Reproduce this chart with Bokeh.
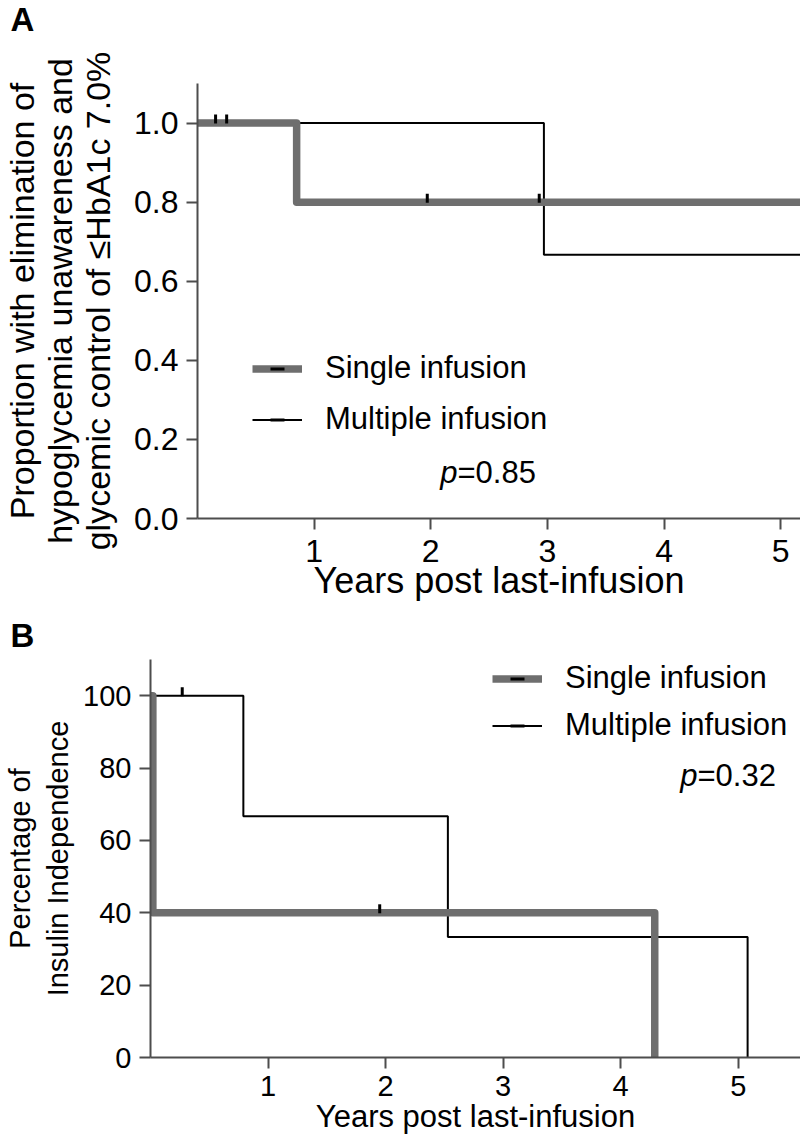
import numpy as np
from bokeh.plotting import figure
from bokeh.models import Legend, LegendItem, FixedTicker, Range1d, PrintfTickFormatter, Label
from bokeh.layouts import column
from bokeh.embed import file_html
from bokeh.resources import INLINE

# ---------------- data ----------------
x_ticks = [1, 2, 3, 4, 5]

# Panel A: proportion with elimination of hypoglycemia unawareness and HbA1c <= 7.0%
a_single_t = [0.0, 0.85, 5.2]
a_single_s = [1.0, 0.8, 0.8]
a_multi_t = [0.0, 2.97, 5.2]
a_multi_s = [1.0, 0.667, 0.667]
a_single_cens_t = [0.155, 1.97, 2.93]
a_single_cens_s = [1.0, 0.8, 0.8]
a_multi_cens_t = [0.25]
a_multi_cens_s = [1.0]
a_y_ticks = [0.0, 0.2, 0.4, 0.6, 0.8, 1.0]
a_pvalue = "0.85"

# Panel B: percentage of insulin independence
b_single_t = [0.0, 0.02, 4.29]
b_single_s = [100, 40, 0]
b_multi_t = [0.0, 0.79, 2.53, 5.08]
b_multi_s = [100, 66.7, 33.3, 0]
b_single_cens_t = [1.95]
b_single_cens_s = [40]
b_multi_cens_t = [0.27]
b_multi_cens_s = [100]
b_y_ticks = [0, 20, 40, 60, 80, 100]
b_pvalue = "0.32"

series_labels = ["Single infusion", "Multiple infusion"]
x_title = "Years post last-infusion"
a_y_title = ["Proportion with elimination of",
             "hypoglycemia unawareness and",
             "glycemic control of \u2264HbA1c 7.0%"]
b_y_title = ["Percentage of", "Insulin Independence"]

# ---------------- style ----------------
FONT = "Liberation Sans"
GRAY = "#6e6e6e"
AX = "#4d4d4d"
W = 800


def make_fig(height, left, top, bottom, xr, yr, tick_size):
    p = figure(width=W, height=height, x_range=Range1d(*xr), y_range=Range1d(*yr),
               output_backend="svg", toolbar_location=None,
               min_border_left=left, min_border_right=0,
               min_border_top=top, min_border_bottom=bottom)
    p.outline_line_color = None
    p.grid.visible = False
    for ax in (p.xaxis[0], p.yaxis[0]):
        ax.axis_line_color = AX
        ax.axis_line_width = 2
        ax.major_tick_line_color = AX
        ax.major_tick_line_width = 2
        ax.major_tick_in = 0
        ax.major_tick_out = 11
        ax.minor_tick_line_color = None
        ax.major_label_text_font = FONT
        ax.major_label_text_font_size = f"{tick_size}px"
        ax.major_label_text_color = "black"
        ax.axis_label_text_font = FONT
        ax.axis_label_text_font_style = "normal"
        ax.axis_label_text_color = "black"
    p.xaxis.ticker = FixedTicker(ticks=x_ticks)
    p.yaxis.major_label_standoff = 8
    return p


def add_text(p, x, y, text, size, align="center", style="normal"):
    p.add_layout(Label(x=x, y=y, x_units="screen", y_units="screen", text=text,
                       text_font=FONT, text_font_size=f"{size}px",
                       text_align=align, text_baseline="middle", text_font_style=style,
                       text_color="black"))


def draw_km(p, s_t, s_s, m_t, m_s, sc_t, sc_s, mc_t, mc_s, px_to_data):
    off = 4 * px_to_data
    r_m = p.step(m_t, m_s, mode="after", line_color="black", line_width=2)
    r_s = p.step(s_t, s_s, mode="after", line_color=GRAY, line_width=7.5, line_join="round")
    c_s = p.scatter(sc_t, [v + off for v in sc_s], marker="dash", angle=np.pi / 2, size=9,
                    line_color="black", line_width=3)
    c_m = p.scatter(mc_t, [v + off for v in mc_s], marker="dash", angle=np.pi / 2, size=9,
                    line_color="black", line_width=3)
    return r_s, r_m, c_s, c_m


def add_legend(p, r_s, r_m, c_s, c_m, loc, spacing):
    leg = Legend(items=[LegendItem(label=series_labels[0], renderers=[r_s, c_s]),
                        LegendItem(label=series_labels[1], renderers=[r_m, c_m])],
                 location=loc, orientation="vertical",
                 label_text_font=FONT, label_text_font_size="31px",
                 label_text_color="black",
                 glyph_width=50, glyph_height=35, label_height=35,
                 label_standoff=23, spacing=spacing, padding=0, margin=0,
                 border_line_color=None, background_fill_alpha=0)
    p.add_layout(leg)


def panel_letter(p, letter, offset, standoff):
    p.title.text = letter
    p.title.align = "left"
    p.title.vertical_align = "top"
    p.title.offset = offset
    p.title.standoff = standoff
    p.title.text_font = FONT
    p.title.text_font_size = "33px"
    p.title.text_font_style = "bold"
    p.title.text_color = "black"


# ---------------- panel A ----------------
A_H, A_L, A_T, A_B = 612, 195, 83, 94
pA = make_fig(A_H, A_L, A_T, A_B, (0, 5.17), (0, 1.1), 32)
pA.yaxis.ticker = FixedTicker(ticks=a_y_ticks)
pA.yaxis.formatter = PrintfTickFormatter(format="%.1f")
pA.xaxis.major_label_standoff = 10
pA.yaxis.axis_label = "\n".join(a_y_title)
pA.yaxis.axis_label_text_font_size = "34px"
pA.yaxis.axis_label_text_line_height = 1.0
pA.yaxis.axis_label_standoff = 14
pA.xaxis.axis_label = x_title
pA.xaxis.axis_label_text_font_size = "36px"
pA.xaxis.axis_label_standoff = -5
rs, rm, cs, cm = draw_km(pA, a_single_t, a_single_s, a_multi_t, a_multi_s,
                         a_single_cens_t, a_single_cens_s, a_multi_cens_t, a_multi_cens_s,
                         1.1 / (A_H - A_T - A_B))
add_legend(pA, rs, rm, cs, cm, (55, 81), 15)
add_text(pA, 260, 46, "p", 31, align="right", style="italic")
add_text(pA, 260, 46, "=" + a_pvalue, 31, align="left")
# a blank second line lifts the letter towards the top of the page
panel_letter(pA, "A\n ", -187, 0)
pA.title.text_line_height = 1.2

# ---------------- panel B ----------------
B_H, B_L, B_T, B_B = 535, 148, 45, 90
pB = make_fig(B_H, B_L, B_T, B_B, (0, 5.53), (0, 110), 29)
pB.yaxis.ticker = FixedTicker(ticks=b_y_ticks)
pB.xaxis.major_label_standoff = 7
pB.yaxis.axis_label = "\n".join(b_y_title)
pB.yaxis.axis_label_text_font_size = "29px"
pB.yaxis.axis_label_text_line_height = 1.2
pB.yaxis.axis_label_standoff = 6
pB.xaxis.axis_label = x_title
pB.xaxis.axis_label_text_font_size = "31px"
pB.xaxis.axis_label_standoff = 0
rs, rm, cs, cm = draw_km(pB, b_single_t, b_single_s, b_multi_t, b_multi_s,
                         b_single_cens_t, b_single_cens_s, b_multi_cens_t, b_multi_cens_s,
                         110 / (B_H - B_T - B_B))
add_legend(pB, rs, rm, cs, cm, (342, 314), 11)
add_text(pB, 547, 282, "p", 31, align="right", style="italic")
add_text(pB, 547, 282, "=" + b_pvalue, 31, align="left")
panel_letter(pB, "B", -140, 8)

layout = column(column(pA), column(pB), spacing=0)
open("out.html", "w").write(file_html(layout, INLINE))
